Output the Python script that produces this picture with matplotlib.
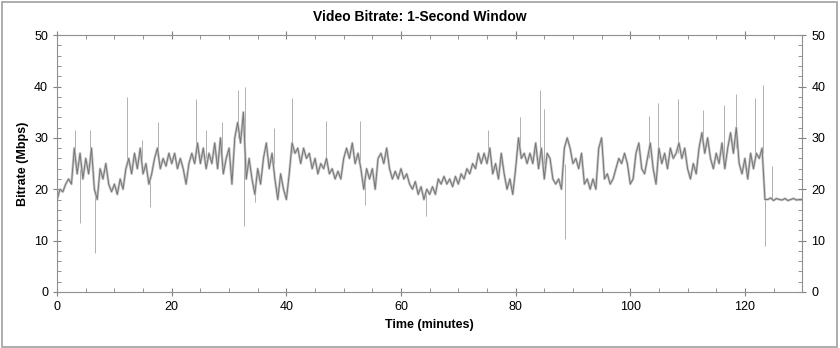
import numpy as np
import matplotlib.pyplot as plt
from matplotlib.patches import Rectangle

plt.rcParams['font.family'] = ['Liberation Sans', 'DejaVu Sans']

# time axis, one reading every half minute
minutes = np.arange(0, 130.5, 0.5)

# bitrate (Mbps), every half minute
bitrate = [
    18, 20, 19.5, 21, 22, 21, 28, 23, 27, 22, 26, 23, 28, 20, 18, 24, 22, 25, 21, 19.5,
    21, 19, 22, 20, 24, 26, 23, 27, 24, 28, 23, 25, 21, 23, 26, 28, 24, 26, 24.5, 27,
    25, 27, 24, 26, 24, 21, 25, 27, 25, 29, 25, 28, 24, 27, 25, 29, 24, 30, 23, 26,
    28, 21, 30, 33, 29, 35, 22, 26, 22, 19, 24, 21, 26, 29, 24, 27, 22, 18, 23, 20,
    18, 23, 29, 27, 28, 25, 28, 26, 27, 24, 26, 23, 25, 24, 26, 23, 24, 22, 23.5, 22,
    26, 28, 26, 29, 25, 27, 24, 20, 24, 22, 24, 20, 26, 27, 25, 28, 24, 22, 23.5, 22,
    24, 22, 23, 21, 20, 21.5, 19, 20.5, 18, 20, 19, 20.5, 19, 22, 21, 22.5, 21, 22, 20.5, 22.5,
    21, 23, 22, 24, 23, 25, 24, 27, 25, 27, 25, 28, 23, 25, 22, 27, 23, 20, 22, 19,
    24, 30, 26, 27, 25, 27, 25, 29, 24, 28, 22, 27, 26, 22, 21, 22, 20, 28, 30, 28,
    25, 26, 24, 27, 21, 22, 20, 22, 20, 28, 30, 22, 23, 21, 22, 24, 26, 25, 27, 25,
    21, 22, 27, 29, 24, 23, 26, 29, 24, 21, 28, 25, 27, 24, 28, 26, 27, 29, 26, 28,
    24, 22, 25, 23, 28, 31, 27, 30, 26, 24, 27, 25, 29, 24, 28, 31, 27, 32, 25, 23,
    26, 22, 27, 24, 27, 26, 28, 18, 18, 18.3, 17.8, 18.2, 18, 17.9, 18.2, 17.8, 18, 18.2, 17.9, 18,
    18,
]

# short spikes: time (min), where they start and where they reach
spike_t = [3.2, 4.0, 5.8, 6.6, 12.2, 14.8, 16.2, 17.6, 24.2, 26.0, 28.7, 31.6,
           32.6, 32.8, 34.5, 37.8, 41.0, 47.0, 52.8, 53.7, 64.4, 75.2, 80.8,
           84.2, 85.0, 88.7, 103.3, 104.9, 108.3, 112.7, 116.3, 118.4, 121.7,
           123.2, 123.5, 124.7]
spike_from = [26, 24, 25, 20, 25, 26, 22, 26, 26, 26, 27, 30,
              28, 30, 22, 25, 27, 25, 25, 22, 19, 26, 27,
              26, 25, 25, 26, 26, 27, 28, 26, 28, 26,
              27, 18, 18]
spike_to = [31.5, 13.5, 31.5, 7.5, 38, 29.5, 16.5, 33, 37.5, 31.5, 33, 39.3,
            12.8, 40, 17.5, 32, 37.7, 33.3, 33.3, 17, 14.8, 31.5, 34,
            39.3, 35.7, 10.3, 34.2, 36.8, 37.5, 35.5, 36.4, 38.6, 37.8,
            40.2, 9, 24.5]

fig = plt.figure(figsize=(8.4, 3.48), dpi=100)
ax = fig.add_axes([0.068, 0.161, 0.887, 0.738])

ax.vlines(spike_t, spike_from, spike_to, color='#b0b0b0', lw=0.7)
# soft band underneath, then the trace itself
ax.plot(minutes, bitrate, color='#c4c4c4', lw=1.8)
ax.plot(minutes, bitrate, color='#767676', lw=0.7)

ax.set_xlim(0, 130)
ax.set_ylim(0, 50)
ax.set_xticks(range(0, 121, 20))
ax.set_xticks(range(0, 131, 5), minor=True)
ax.set_yticks(range(0, 51, 10))
ax.set_yticks(range(0, 51, 2), minor=True)
ax.tick_params(which='both', top=True, right=True, labelright=True,
               colors='#808080', labelcolor='black', labelsize=9)
ax.tick_params(which='major', direction='inout', length=6)
ax.tick_params(which='minor', direction='in', length=3)
for s in ax.spines.values():
    s.set_color('#909090')

ax.set_xlabel('Time (minutes)', fontsize=9, fontweight='bold')
ax.set_ylabel('Bitrate (Mbps)', fontsize=9, fontweight='bold')
fig.text(0.5, 0.952, 'Video Bitrate: 1-Second Window', ha='center', va='center',
         fontsize=10, fontweight='bold')

fig.patches.append(Rectangle((0.002, 0.004), 0.995, 0.99, transform=fig.transFigure,
                             fill=False, edgecolor='#a0a0a0', lw=1.2))

fig.savefig('out.png', dpi=100)
